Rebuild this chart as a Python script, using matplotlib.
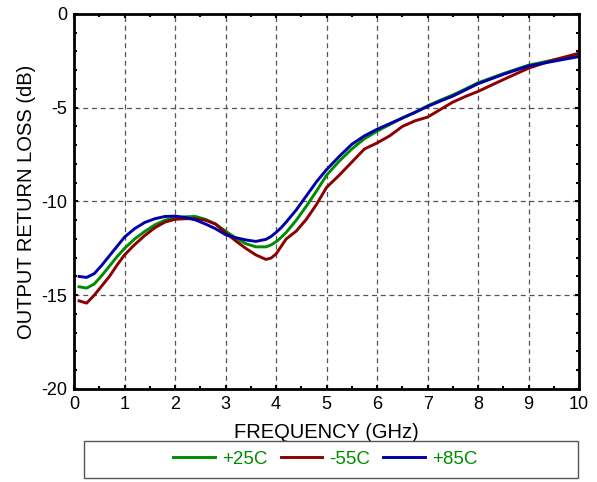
import matplotlib.pyplot as plt
from matplotlib.patches import Rectangle
from matplotlib.ticker import MultipleLocator

plt.rcParams['font.family'] = ['Liberation Sans', 'DejaVu Sans']
plt.rcParams['axes.unicode_minus'] = False

# frequency points (GHz)
freq = [0.1, 0.25, 0.4, 0.55, 0.7, 0.85, 1.0, 1.2, 1.4, 1.6, 1.8, 2.0, 2.2, 2.4,
        2.6, 2.8, 3.0, 3.2, 3.4, 3.6, 3.8, 3.9, 4.0, 4.1, 4.2, 4.4, 4.6, 4.8,
        5.0, 5.25, 5.5, 5.75, 6.0, 6.25, 6.5, 6.75, 7.0, 7.25, 7.5, 7.75, 8.0,
        8.5, 9.0, 9.5, 10.0]

rl_p25 = [-14.55, -14.62, -14.4, -13.95, -13.45, -12.95, -12.5, -12.0, -11.6,
          -11.25, -11.0, -10.87, -10.82, -10.8, -10.95, -11.2, -11.58, -11.95,
          -12.25, -12.42, -12.42, -12.32, -12.15, -11.92, -11.65, -11.0, -10.25,
          -9.45, -8.6, -7.85, -7.2, -6.65, -6.25, -5.9, -5.55, -5.25, -4.9,
          -4.6, -4.32, -4.0, -3.67, -3.18, -2.73, -2.45, -2.18]

rl_m55 = [-15.3, -15.42, -15.0, -14.5, -14.0, -13.4, -12.85, -12.3, -11.82,
          -11.4, -11.1, -10.95, -10.92, -10.92, -11.0, -11.2, -11.67, -12.1,
          -12.5, -12.85, -13.09, -13.02, -12.8, -12.4, -12.0, -11.58, -10.95,
          -10.16, -9.25, -8.6, -7.9, -7.2, -6.88, -6.5, -6.0, -5.7, -5.5, -5.1,
          -4.7, -4.4, -4.13, -3.5, -2.89, -2.45, -2.09]

rl_p85 = [-14.0, -14.05, -13.85, -13.4, -12.9, -12.4, -11.9, -11.45, -11.12,
          -10.92, -10.8, -10.78, -10.85, -10.98, -11.2, -11.45, -11.77, -11.93,
          -12.05, -12.13, -12.02, -11.87, -11.65, -11.4, -11.1, -10.45, -9.7,
          -8.95, -8.3, -7.6, -6.95, -6.5, -6.15, -5.85, -5.55, -5.25, -4.93,
          -4.65, -4.38, -4.05, -3.72, -3.22, -2.77, -2.52, -2.27]

labels = ['+25C', '-55C', '+85C']
colors = ['#008c00', '#8b0000', '#0000a8']

fig = plt.figure(figsize=(5.97, 4.82), dpi=100)
ax = fig.add_axes([0.124, 0.193, 0.846, 0.778])

for y, lab, c in zip([rl_p25, rl_m55, rl_p85], labels, colors):
    ax.plot(freq, y, color=c, lw=2.1, label=lab)

ax.set_xlim(0, 10)
ax.set_ylim(-20, 0)
ax.xaxis.set_major_locator(MultipleLocator(1))
ax.xaxis.set_minor_locator(MultipleLocator(0.5))
ax.yaxis.set_major_locator(MultipleLocator(5))
ax.yaxis.set_minor_locator(MultipleLocator(1))
ax.tick_params(which='both', direction='in', labelsize=13, pad=5,
               top=True, right=True)
ax.tick_params(which='major', length=3, width=1.5)
ax.tick_params(which='minor', length=2, width=1.5)
ax.grid(True, which='major', ls=(0, (4, 3)), color='#555555', lw=0.9)
for s in ax.spines.values():
    s.set_linewidth(2)

ax.set_xlabel('FREQUENCY (GHz)', fontsize=14.5, labelpad=7)
ax.set_ylabel('OUTPUT RETURN LOSS (dB)', fontsize=14.5, labelpad=4)

# legend in a box below the plot
fig.patches.append(Rectangle((0.141, 0.008), 0.827, 0.077, transform=fig.transFigure,
                             fill=False, edgecolor='#555555', lw=1))
leg = fig.legend(loc='center', bbox_to_anchor=(0.545, 0.047), ncol=3, frameon=False,
                 fontsize=13.5, handlelength=2.2, columnspacing=0.7, handletextpad=0.4)
for t in leg.get_texts():
    t.set_color('#008c00')

fig.savefig('out.png', dpi=100)
